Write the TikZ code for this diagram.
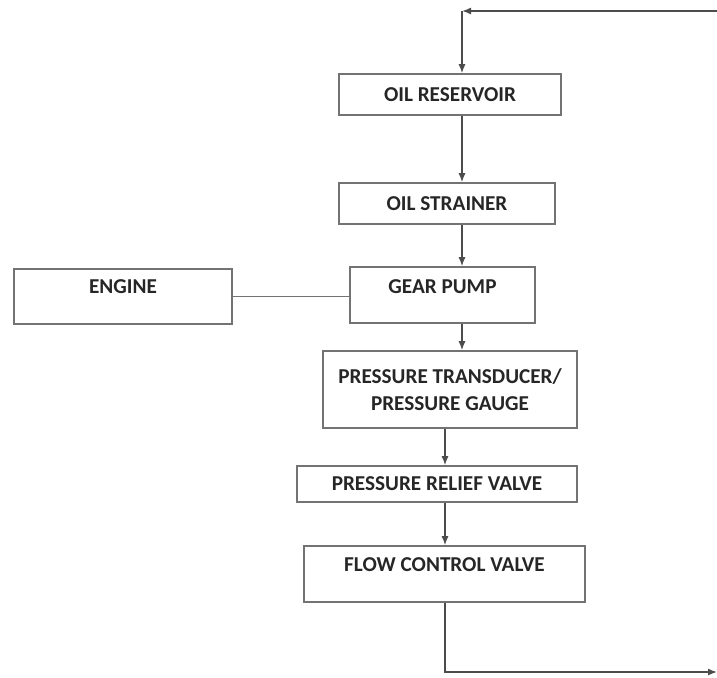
\documentclass[tikz,border=0pt]{standalone}
\usepackage{fontspec}
\setmainfont{Carlito}
\usetikzlibrary{arrows.meta, positioning}
\usepackage{xcolor}

\begin{document}
\begin{tikzpicture}[
  font=\fontsize{10.6}{13.5}\selectfont\bfseries,
  x=0.5pt, y=-0.5pt,
  block/.style={draw=black!55, line width=0.8pt, text=black!85, align=center, inner sep=0pt, text height=7pt},
  lifted/.style={text depth=#1},
  flow/.style={-{Latex[length=4.5pt, width=3.5pt]}, draw=black!70, line width=0.7pt},
  link/.style={draw=black!55, line width=0.9pt}
]
\useasboundingbox (0,0) rectangle (717,677);

% Blocs de la chaîne
\node[block, minimum width=111pt, minimum height=20.5pt] (res) at (450,94.5) {OIL RESERVOIR};
\node[block, minimum width=108pt, minimum height=20.5pt] (str) at (447,203.5) {OIL STRAINER};
\node[block, lifted=8.6pt, minimum width=92.5pt, minimum height=28pt] (gp) at (442.5,295) {GEAR PUMP};
\node[block, lifted=10.1pt, minimum width=109pt, minimum height=27.5pt] (eng) at (123,296.5) {ENGINE};
\node[block, text height=, minimum width=127pt, minimum height=38.5pt] (pt) at (450,389.5) {PRESSURE TRANSDUCER/\\PRESSURE GAUGE};
\node[block, minimum width=140pt, minimum height=18pt] (prv) at (437,484) {PRESSURE RELIEF VALVE};
\node[block, lifted=9.6pt, minimum width=140.5pt, minimum height=28pt] (fcv) at (444.5,574) {FLOW CONTROL VALVE};

% Points de retour et colonnes
\coordinate (inR)  at (717,11);
\coordinate (inC)  at (462,11);
\coordinate (colB) at (445,0);
\coordinate (outC) at (445,672);
\coordinate (outR) at (717,672);

% Retour en haut
\draw[flow] (inR) -- (inC);
\draw[flow] (inC) -- (inC |- res.north);

% Descente principale
\draw[flow] (res.south -| inC) -- (str.north -| inC);
\draw[flow] (str.south -| inC) -- (gp.north -| inC);
\draw[flow] (gp.south -| inC) -- (pt.north -| inC);
\draw[flow] (pt.south -| colB) -- (prv.north -| colB);
\draw[flow] (prv.south -| colB) -- (fcv.north -| colB);
\draw[flow] (fcv.south -| colB) -- (outC) -- (outR);

% Entraînement
\draw[link] (eng.east) -- (eng.east -| gp.west);
\end{tikzpicture}
\end{document}
